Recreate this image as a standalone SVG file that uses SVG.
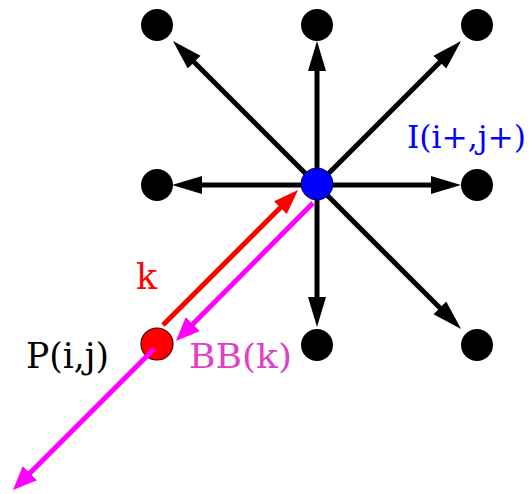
<svg xmlns="http://www.w3.org/2000/svg" width="531" height="494" viewBox="0 0 531 494">
<style>
.blk{fill:#000}
.edge{stroke:#000;stroke-width:5;fill:none;marker-end:url(#ab)}
.red{stroke:#ff0000;stroke-width:5;fill:none;marker-end:url(#ar)}
.mag{stroke:#ff00ff;stroke-width:5;fill:none;marker-end:url(#am)}
text{font-family:"DejaVu Serif","Liberation Serif",serif}
</style>
<defs>
<marker id="ab" markerUnits="userSpaceOnUse" markerWidth="32" markerHeight="20" refX="20" refY="9" orient="auto" viewBox="0 0 32 20"><path d="M0,0 L30,9 L0,18 z" fill="#000"/></marker>
<marker id="ar" markerUnits="userSpaceOnUse" markerWidth="28" markerHeight="20" refX="15" refY="9" orient="auto" viewBox="0 0 28 20"><path d="M0,0 L25,9 L0,18 z" fill="#ff0000"/></marker>
<marker id="am" markerUnits="userSpaceOnUse" markerWidth="28" markerHeight="22" refX="14" refY="10" orient="auto" viewBox="0 0 28 22"><path d="M0,0 L24,10 L0,20 z" fill="#ff00ff"/></marker>
</defs>
<g id="connectors">
<line class="edge" x1="317" y1="185" x2="317" y2="51"/>
<line class="edge" x1="317" y1="185" x2="317" y2="317"/>
<line class="edge" x1="317" y1="185" x2="182" y2="185"/>
<line class="edge" x1="317" y1="185" x2="451" y2="185"/>
<line class="edge" x1="317" y1="185" x2="180" y2="48"/>
<line class="edge" x1="317" y1="185" x2="454" y2="48"/>
<line class="edge" x1="317" y1="185" x2="454" y2="322"/>
<line class="red" x1="163" y1="325" x2="291" y2="197"/>
<line class="mag" x1="313" y1="203" x2="183" y2="334"/>
</g>
<g id="n-tl"><circle class="blk" cx="157" cy="25" r="16"/></g>
<g id="n-tm"><circle class="blk" cx="317" cy="25" r="16"/></g>
<g id="n-tr"><circle class="blk" cx="477" cy="25" r="16"/></g>
<g id="n-ml"><circle class="blk" cx="157" cy="185" r="16"/></g>
<g id="n-mr"><circle class="blk" cx="477" cy="185" r="16"/></g>
<g id="n-bm"><circle class="blk" cx="317" cy="345" r="16"/></g>
<g id="n-br"><circle class="blk" cx="477" cy="345" r="16"/></g>
<g id="n-I"><circle cx="317" cy="184" r="16" fill="#0000ff" stroke="#000050" stroke-width="1"/>
<text x="407" y="148" font-size="32" fill="#0000ff" textLength="119" lengthAdjust="spacingAndGlyphs">I(i+,j+)</text></g>
<g id="n-P"><circle cx="157" cy="344" r="16" fill="#ff0000" stroke="#400000" stroke-width="1.2"/>
<text x="26" y="368" font-size="35" fill="#000" textLength="83" lengthAdjust="spacingAndGlyphs">P(i,j)</text></g>
<g id="out"><line class="mag" x1="154" y1="349" x2="20" y2="483"/></g>
<text x="136" y="289" font-size="35" fill="#ff0000">k</text>
<text x="189" y="368" font-size="34" fill="#e040c8" textLength="103" lengthAdjust="spacingAndGlyphs">BB(k)</text>
</svg>
